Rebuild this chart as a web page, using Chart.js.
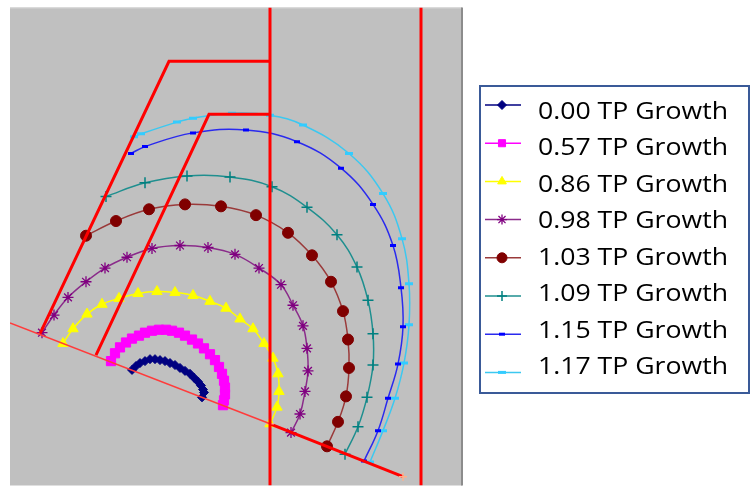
<!DOCTYPE html>
<html>
<head>
<meta charset="utf-8">
<script src="https://cdn.jsdelivr.net/npm/chart.js@4.4.1/dist/chart.umd.min.js"></script>
<style>
  html, body { margin: 0; padding: 0; background: #ffffff; }
  #wrap { position: relative; width: 756px; height: 493px; }
</style>
</head>
<body>
<div id="wrap"><canvas id="c" width="756" height="493"></canvas></div>
<script>
// Growth front profiles, [x, y] pairs in plot units
const growth000 = [[122,118],[126,122],[130,125],[135,127],[140,129],[145,129],[150,128],[155,127],[160,125],[165,123],[170,120],[175,117],[180,114],[184,110],[188,106],[191,102],[193,98],[194,95],[192,90]];
const growth057 = [[101,127],[105,135],[110,141],[116,146],[122,150],[129,153],[135,156],[142,158],[149,159],[156,159],[162,158],[169,156],[175,153],[182,149],[188,145],[194,140],[200,134],[205,128],[209,121],[212,114],[214,107],[215,100],[215,93],[214,87],[213,82]];
const growth086 = [[53,145],[63,160],[77,175],[92,185],[109,191],[128,196],[147,198],[165,197],[183,194],[200,188],[216,181],[230,170],[243,160],[254,145],[263,130],[268,114],[269,96],[267,80],[260,63]];
const growth098 = [[32,156],[44,174],[58,192],[76,208],[95,222],[117,233],[142,242],[170,245],[198,243],[225,236],[249,222],[271,205],[283,184],[293,163],[297,140],[298,117],[295,96],[290,73],[281,54]];
const growth103 = [[76,255],[106,270],[139,282],[175,287],[211,285],[246,276],[278,258],[302,235],[321,208],[333,178],[338,149],[339,120],[336,91],[328,65],[317,40]];
const growth109 = [[96,295],[135,309],[177,316],[220,315],[262,305],[297,284],[327,256],[347,223],[358,189],[363,155],[363,123],[357,90],[348,60],[335,32]];
const growth115 = [[121,339],[135,346],[183,360],[236,363],[287,351],[331,324],[363,287],[383,245],[391,202],[393,162],[388,124],[378,89],[368,56],[354,25]];
const growth117 = [[124,356],[131,359],[167,371],[183,375],[222,380],[260,378],[293,368],[339,339],[373,298],[392,252],[399,206],[399,164],[394,125],[385,89],[373,56],[360,24]];

const seriesLabels = ['0.00 TP Growth','0.57 TP Growth','0.86 TP Growth','0.98 TP Growth','1.03 TP Growth','1.09 TP Growth','1.15 TP Growth','1.17 TP Growth'];

// Boundary geometry
const outerWall = [[30,155],[159,433],[260,433]];
const innerWall = [[86,133],[199,379],[260,379]];
const leftVertical = [[260,0],[260,488]];
const rightVertical = [[411,0],[411,488]];
const baseLeft = [[0,166],[260,63]];
const baseRight = [[260,63],[393,9]];

const toPts = arr => arr.map(([x, y]) => ({ x, y }));

const styles = [
  { color: '#000080', line: '#000080', pointStyle: 'rectRot', radius: 4.5, bw: 1, width: 1.5 },
  { color: '#ff00ff', line: '#ff00ff', pointStyle: 'rect', radius: 6.5, bw: 1, width: 1.5 },
  { color: '#ffff00', line: '#ffff00', pointStyle: 'triangle', radius: 6, bw: 1, width: 1.5 },
  { color: '#800080', line: '#8a2b8a', pointStyle: 'star', radius: 5.5, bw: 1.3, width: 1.5 },
  { color: '#800000', line: '#9a3a3a', pointStyle: 'circle', radius: 5.5, bw: 1, width: 1.5 },
  { color: '#008080', line: '#1f8f8f', pointStyle: 'cross', radius: 5.5, bw: 1.5, width: 1.5 },
  { color: '#0000ff', line: '#2a2aee', pointStyle: 'line', radius: 3, bw: 3, width: 1.5 },
  { color: '#33ccff', line: '#3cc8f0', pointStyle: 'line', radius: 4, bw: 3, width: 1.5 }
];

const growthSeries = [growth000, growth057, growth086, growth098, growth103, growth109, growth115, growth117];

const wallSet = (pts, width, color, extra) => Object.assign({
  data: toPts(pts), showLine: true, borderColor: color, borderWidth: width,
  pointRadius: 0, tension: 0, order: 0
}, extra || {});

const datasets = [
  wallSet(outerWall, 3, '#ff0000'),
  wallSet(innerWall, 3, '#ff0000'),
  wallSet(leftVertical, 3, '#ff0000'),
  wallSet(rightVertical, 3, '#ff0000'),
  wallSet(baseLeft, 1.5, '#ff3b3b'),
  wallSet(baseRight, 3, '#ff0000', { pointRadius: 4, pointStyle: 'cross', pointBorderColor: '#ffb08a', pointBorderWidth: 1.5 })
];

growthSeries.forEach((s, i) => {
  const st = styles[i];
  datasets.push({
    label: seriesLabels[i],
    data: toPts(s),
    showLine: true,
    borderColor: st.line,
    borderWidth: st.width,
    backgroundColor: st.color,
    pointBackgroundColor: st.color,
    pointBorderColor: st.color,
    pointBorderWidth: st.bw,
    pointStyle: st.pointStyle,
    pointRadius: st.radius,
    tension: 0.4,
    order: 1
  });
});

const plotBackground = {
  id: 'plotBackground',
  beforeDraw(chart) {
    const { ctx, chartArea: a } = chart;
    ctx.save();
    ctx.fillStyle = '#c0c0c0';
    ctx.fillRect(a.left, a.top, a.right - a.left, a.bottom - a.top);
    ctx.strokeStyle = '#d4d4d4';
    ctx.lineWidth = 1;
    ctx.beginPath();
    ctx.moveTo(a.left, a.top + 0.5);
    ctx.lineTo(a.right, a.top + 0.5);
    ctx.stroke();
    ctx.strokeStyle = '#8c8c8c';
    ctx.lineWidth = 2;
    ctx.beginPath();
    ctx.moveTo(a.right, a.top);
    ctx.lineTo(a.right, a.bottom);
    ctx.stroke();
    ctx.restore();
  }
};

// Legend panel: line + marker sample, then the label set in a slightly widened face
const sideLegend = {
  id: 'sideLegend',
  afterDraw(chart) {
    const { ctx } = chart;
    ctx.save();
    ctx.fillStyle = '#ffffff';
    ctx.fillRect(480, 86, 269, 307);
    ctx.strokeStyle = '#3a5a98';
    ctx.lineWidth = 2;
    ctx.strokeRect(480, 86, 269, 307);
    ctx.font = '24px "Open Sans", Lato, sans-serif';
    ctx.textBaseline = 'middle';
    ctx.textAlign = 'left';
    const stretch = 190 / ctx.measureText(seriesLabels[0]).width;
    seriesLabels.forEach((label, i) => {
      const st = styles[i];
      const ys = 105 + i * 38.2;
      const yt = 112 + i * 36.5;
      ctx.strokeStyle = st.line;
      ctx.lineWidth = 1.5;
      ctx.beginPath();
      ctx.moveTo(485, ys);
      ctx.lineTo(521, ys);
      ctx.stroke();
      ctx.fillStyle = st.color;
      ctx.strokeStyle = st.color;
      ctx.lineWidth = st.bw;
      Chart.helpers.drawPoint(ctx, { pointStyle: st.pointStyle, radius: Math.min(st.radius, 5), rotation: 0, borderWidth: st.bw }, 502, ys);
      ctx.save();
      ctx.translate(538, yt);
      ctx.scale(stretch, 1);
      ctx.fillStyle = '#000000';
      ctx.fillText(label, 0, 0);
      ctx.restore();
    });
    ctx.restore();
  }
};

new Chart(document.getElementById('c'), {
  type: 'scatter',
  data: { datasets },
  options: {
    responsive: false,
    animation: false,
    layout: { padding: { left: 10, right: 294, top: 5, bottom: 0 } },
    scales: {
      x: { type: 'linear', min: 0, max: 452, display: false },
      y: { type: 'linear', min: 0, max: 488, display: false }
    },
    plugins: { legend: { display: false }, tooltip: { enabled: false } }
  },
  plugins: [plotBackground, sideLegend]
});
</script>
</body>
</html>
